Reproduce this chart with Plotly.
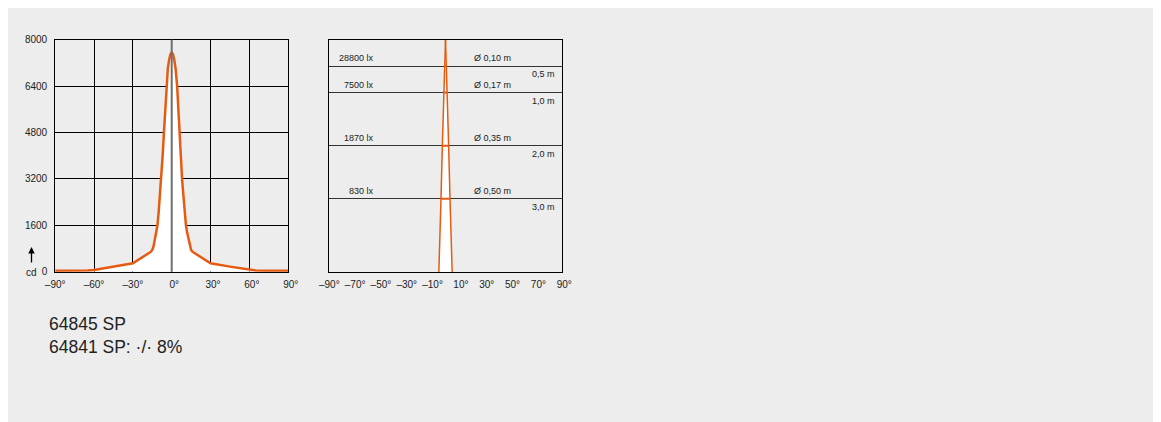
import plotly.graph_objects as go

# ---------------- data ----------------
# Left: luminous intensity distribution (cd) vs angle (deg)
angles = [-90, -75, -65, -60, -45, -30, -16, -15, -14, -13, -12, -11, -10, -9, -8, -7, -6, -5, -4.2, -3, -2, -1,
          0, 1, 2, 3, 4.2, 5, 6, 7, 8, 9, 10, 11, 12, 13, 14, 15, 16, 30, 45, 60, 65, 75, 90]
candela = [30, 30, 40, 60, 175, 290, 690, 750, 880, 1100, 1330, 1600, 2100, 2650, 3200, 4000, 4800, 5650, 6400, 7000, 7300, 7500,
           7560, 7500, 7300, 7000, 6400, 5650, 4800, 4000, 3200, 2650, 2100, 1600, 1330, 1100, 880, 750, 690, 290, 175, 60, 40, 30, 30]
left_x_ticks = [-90, -60, -30, 0, 30, 60, 90]
left_y_ticks = [0, 1600, 3200, 4800, 6400, 8000]

# Right: illuminance / beam diameter vs distance
distances_m = [0.5, 1.0, 2.0, 3.0]
lux_values = [28800, 7500, 1870, 830]
diameters_m = [0.10, 0.17, 0.35, 0.50]
depth_max_m = 4.38          # bottom of the right diagram
beam_diam_bottom_m = 0.74   # beam width at the bottom edge
right_x_ticks = [-90, -70, -50, -30, -10, 10, 30, 50, 70, 90]

product_lines = ["64845 SP", "64841 SP: ·/· 8%"]

# ---------------- style ----------------
W, H = 1161, 422
OFF = 8  # page body margin
GRAY = "#ECEDEC"
ORANGE = "#E65A12"
TXT = "#222222"
FONT = "Liberation Sans, Arial, sans-serif"


def deg_label(v):
    if v < 0:
        return "\u2013" + str(abs(v)) + "°"
    return "\u2002" + str(v) + "°"


def px_x(p):
    return (p - OFF) / W


def px_y(p):
    return (H - (p - OFF)) / H


RIGHT_DOMAIN_X = [px_x(329.3), px_x(561.7)]

fig = go.Figure()

# Left curve
fig.add_trace(go.Scatter(
    x=angles, y=candela, mode="lines", xaxis="x", yaxis="y",
    line=dict(color=ORANGE, width=2.5), fill="tozeroy", fillcolor="white",
    hoverinfo="skip", showlegend=False))

# Register the right-hand subplot (degree axis / distance axis)
fig.add_trace(go.Scatter(x=[], y=[], mode="lines", xaxis="x2", yaxis="y2",
                         hoverinfo="skip", showlegend=False))

# Right: beam cone (white fill, orange edges), drawn on a metre-scaled overlay axis
depths = [0] + distances_m + [depth_max_m]
diams = [0] + diameters_m + [beam_diam_bottom_m]
half_right = [d / 2 for d in diams]
half_left = [-d / 2 for d in diams]
fig.add_trace(go.Scatter(
    x=half_right + half_left[::-1], y=depths + depths[::-1], mode="lines",
    xaxis="x3", yaxis="y2", line=dict(width=0, color="white"),
    fill="toself", fillcolor="white", hoverinfo="skip", showlegend=False))
for edge in (half_left, half_right):
    fig.add_trace(go.Scatter(
        x=edge, y=depths, mode="lines", xaxis="x3", yaxis="y2",
        line=dict(color=ORANGE, width=1.5), hoverinfo="skip", showlegend=False))

# Diameter markers
for d, dist in zip(diameters_m, distances_m):
    fig.add_trace(go.Scatter(
        x=[-d / 2, d / 2], y=[dist, dist], mode="lines", xaxis="x3", yaxis="y2",
        line=dict(color=ORANGE, width=2), hoverinfo="skip", showlegend=False))

annotations = []
for dist, lx, d in zip(distances_m, lux_values, diameters_m):
    annotations.append(dict(
        xref="paper", yref="y2",
        x=RIGHT_DOMAIN_X[0] + 0.199 * (RIGHT_DOMAIN_X[1] - RIGHT_DOMAIN_X[0]), y=dist,
        xanchor="right", yanchor="middle",
        yshift=8, text=f"{lx} lx", showarrow=False, font=dict(size=9, color=TXT, family=FONT)))
    annotations.append(dict(
        xref="paper", yref="y2",
        x=RIGHT_DOMAIN_X[0] + 0.615 * (RIGHT_DOMAIN_X[1] - RIGHT_DOMAIN_X[0]), y=dist,
        xanchor="left", yanchor="middle",
        yshift=8, text="Ø " + f"{d:.2f}".replace(".", ",") + " m", showarrow=False,
        font=dict(size=9, color=TXT, family=FONT)))
    annotations.append(dict(
        xref="paper", yref="y2",
        x=RIGHT_DOMAIN_X[0] + 0.978 * (RIGHT_DOMAIN_X[1] - RIGHT_DOMAIN_X[0]), y=dist,
        xanchor="right", yanchor="middle",
        yshift=-8, text=f"{dist:.1f}".replace(".", ",") + " m", showarrow=False,
        font=dict(size=9, color=TXT, family=FONT)))

# cd label and arrow
annotations.append(dict(
    xref="paper", yref="paper", x=px_x(31.5), y=px_y(272), xanchor="center", yanchor="middle",
    text="cd", showarrow=False, font=dict(size=10, color=TXT, family=FONT)))
annotations.append(dict(
    xref="paper", yref="paper", x=px_x(31.5), y=px_y(247), text="", showarrow=True,
    ax=0, ay=17, arrowhead=2, arrowsize=1, arrowwidth=1.3, arrowcolor="black"))

# Product text
annotations.append(dict(
    xref="paper", yref="paper", x=px_x(47), y=px_y(335), xanchor="left", yanchor="middle",
    align="left", text="<br>".join(product_lines), showarrow=False,
    font=dict(size=17.5, color=TXT, family=FONT)))

shapes = [
    dict(type="line", xref="x", yref="paper", x0=0, x1=0, y0=px_y(271.7), y1=px_y(39.7),
         line=dict(color="#6E6E6E", width=2), layer="above"),
]

axis_font = dict(size=10, color=TXT, family=FONT)

fig.update_layout(
    template="none",
    width=W, height=H, margin=dict(l=0, r=0, t=0, b=0, pad=0), autosize=False,
    paper_bgcolor=GRAY, plot_bgcolor=GRAY, showlegend=False,
    font=dict(family=FONT, color=TXT),
    annotations=annotations, shapes=shapes,
    xaxis=dict(domain=[px_x(55.2), px_x(288.2)], range=[-90, 90], anchor="y",
               tickvals=left_x_ticks, ticktext=[deg_label(v) for v in left_x_ticks],
               showgrid=True, gridcolor="black", gridwidth=1, zeroline=False,
               showline=True, mirror=True, linecolor="black", linewidth=1,
               ticks="", tickfont=axis_font, ticklabelstandoff=3, automargin=False,
               fixedrange=True),
    yaxis=dict(domain=[px_y(271.7), px_y(39.7)], range=[0, 8000], anchor="x",
               tickvals=left_y_ticks, ticktext=[str(v) for v in left_y_ticks],
               showgrid=True, gridcolor="black", gridwidth=1, zeroline=False,
               showline=True, mirror=True, linecolor="black", linewidth=1,
               ticks="", tickfont=axis_font, ticklabelstandoff=5, automargin=False,
               fixedrange=True),
    xaxis2=dict(domain=RIGHT_DOMAIN_X, range=[-90, 90], anchor="y2",
                tickvals=right_x_ticks, ticktext=[deg_label(v) for v in right_x_ticks],
                showgrid=False, zeroline=False,
                showline=True, mirror=True, linecolor="black", linewidth=1,
                ticks="", tickfont=axis_font, ticklabelstandoff=3, automargin=False,
                fixedrange=True),
    yaxis2=dict(domain=[px_y(272), px_y(39.5)], range=[depth_max_m, 0], anchor="x2",
                tickvals=distances_m, showticklabels=False,
                showgrid=True, gridcolor="#333333", gridwidth=1.2, zeroline=False,
                showline=True, mirror=True, linecolor="black", linewidth=1,
                ticks="", automargin=False, fixedrange=True),
    xaxis3=dict(overlaying="x2", anchor="y2", domain=RIGHT_DOMAIN_X,
                range=[-6.455, 6.455], visible=False, automargin=False, fixedrange=True),
)

fig.write_html("out.html")
